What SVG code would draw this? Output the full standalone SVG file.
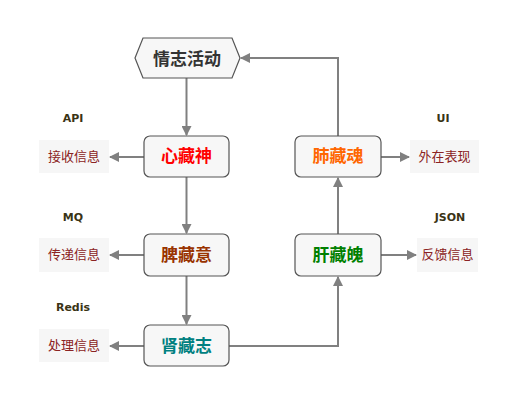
<svg xmlns="http://www.w3.org/2000/svg" width="525" height="404" viewBox="0 0 525 404">
<style>
.node{fill:#f7f7f7;stroke:#555;stroke-width:1.2}
.nt{font-family:"Noto Sans CJK SC",sans-serif;font-size:17px;font-weight:bold;text-anchor:middle}
.side{fill:#f6f6f6;stroke:none}
.st{font-family:"Noto Sans CJK SC",sans-serif;font-size:13px;fill:#8b2323;text-anchor:middle}
.tag{font-family:"DejaVu Sans",sans-serif;font-size:11px;font-weight:bold;fill:#3a3315;text-anchor:middle}
.c{fill:none;stroke:#808080;stroke-width:2}
</style>
<defs>
<marker id="ah" markerWidth="10" markerHeight="10" refX="9" refY="5" orient="auto" markerUnits="userSpaceOnUse" viewBox="0 0 10 10">
<path d="M0,0 L10,5 L0,10 z" fill="#808080"/>
</marker>
</defs>
<rect width="525" height="404" fill="#ffffff"/>
<g id="connectors">
<path class="c" d="M186.5,78 V135" marker-end="url(#ah)"/>
<path class="c" d="M186.5,177 V233" marker-end="url(#ah)"/>
<path class="c" d="M186.5,276 V324" marker-end="url(#ah)"/>
<path class="c" d="M229,346 H338 V277" marker-end="url(#ah)"/>
<path class="c" d="M338,234 V178" marker-end="url(#ah)"/>
<path class="c" d="M338,136 V58 H241" marker-end="url(#ah)"/>
<path class="c" d="M144,157 H110" marker-end="url(#ah)"/>
<path class="c" d="M144,255 H110" marker-end="url(#ah)"/>
<path class="c" d="M144,346 H110" marker-end="url(#ah)"/>
<path class="c" d="M381,157 H409" marker-end="url(#ah)"/>
<path class="c" d="M381,255 H416" marker-end="url(#ah)"/>
</g>
<g id="start">
<path class="node" d="M143,38 H232 L240,58 L232,78 H143 L135,58 Z"/>
<text class="nt" x="187" y="65" fill="#333">情志活动</text>
</g>
<g id="xin">
<rect class="node" x="144" y="136" width="85" height="41" rx="6"/>
<text class="nt" x="186.5" y="162" fill="#ff0000">心藏神</text>
</g>
<g id="pi">
<rect class="node" x="144" y="234" width="85" height="42" rx="6"/>
<text class="nt" x="186.5" y="261" fill="#993300">脾藏意</text>
</g>
<g id="shen">
<rect class="node" x="144" y="325" width="85" height="41" rx="6"/>
<text class="nt" x="186.5" y="352" fill="#008080">肾藏志</text>
</g>
<g id="gan">
<rect class="node" x="295" y="234" width="86" height="42" rx="6"/>
<text class="nt" x="338" y="261" fill="#008000">肝藏魄</text>
</g>
<g id="fei">
<rect class="node" x="295" y="136" width="86" height="41" rx="6"/>
<text class="nt" x="338" y="162" fill="#ff6600">肺藏魂</text>
</g>
<g id="api">
<text class="tag" x="73" y="122">API</text>
<rect class="side" x="39" y="140" width="70" height="33"/>
<text class="st" x="74" y="161">接收信息</text>
</g>
<g id="mq">
<text class="tag" x="73" y="221">MQ</text>
<rect class="side" x="39" y="238" width="70" height="34"/>
<text class="st" x="74" y="259">传递信息</text>
</g>
<g id="redis">
<text class="tag" x="73" y="311">Redis</text>
<rect class="side" x="39" y="329" width="70" height="33"/>
<text class="st" x="74" y="350">处理信息</text>
</g>
<g id="ui">
<text class="tag" x="443" y="122">UI</text>
<rect class="side" x="410" y="140" width="69" height="33"/>
<text class="st" x="444.5" y="161">外在表现</text>
</g>
<g id="json">
<text class="tag" x="450" y="221">JSON</text>
<rect class="side" x="417" y="238" width="61" height="34"/>
<text class="st" x="447.5" y="259">反馈信息</text>
</g>
</svg>
